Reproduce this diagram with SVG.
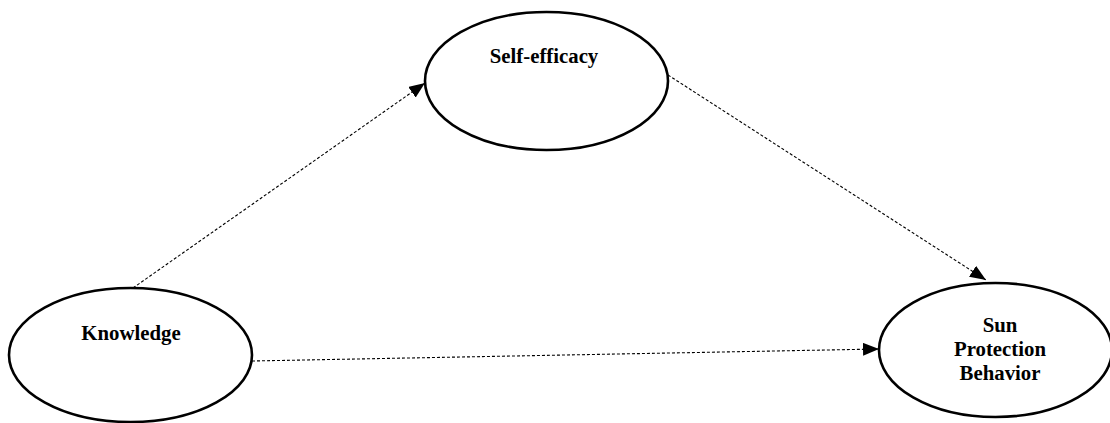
<svg xmlns="http://www.w3.org/2000/svg" width="1110" height="423" viewBox="0 0 1110 423">
<style>
.node ellipse{fill:#fff;stroke:#000;stroke-width:2.6}
.node text{font-family:"Liberation Serif","Times New Roman",serif;font-weight:bold;font-size:20.8px;fill:#000;text-anchor:middle}
.conn line{stroke:#000;stroke-width:1.1;stroke-dasharray:3 2;fill:none}
</style>
<defs>
<marker id="ah" viewBox="0 0 16 13" refX="16" refY="6.5" markerWidth="16" markerHeight="13" markerUnits="userSpaceOnUse" orient="auto">
<path d="M0,0 L16,6.5 L0,13 Z" fill="#000"/>
</marker>
</defs>
<rect width="1110" height="423" fill="#fff"/>
<g class="conn" id="connectors">
<line x1="133" y1="288" x2="425" y2="83" marker-end="url(#ah)"/>
<line x1="668" y1="75" x2="986" y2="280" marker-end="url(#ah)"/>
<line x1="252" y1="361" x2="879" y2="349" marker-end="url(#ah)"/>
</g>
<g class="node" id="self-efficacy">
<ellipse cx="546.5" cy="81" rx="121.5" ry="69"/>
<text x="544" y="63">Self-efficacy</text>
</g>
<g class="node" id="knowledge">
<ellipse cx="130.5" cy="355" rx="121.5" ry="67"/>
<text x="131" y="340">Knowledge</text>
</g>
<g class="node" id="sun-protection-behavior">
<ellipse cx="995.5" cy="350" rx="116.5" ry="67"/>
<text x="1000" y="332">Sun</text>
<text x="1000" y="356">Protection</text>
<text x="1000" y="380">Behavior</text>
</g>
</svg>
